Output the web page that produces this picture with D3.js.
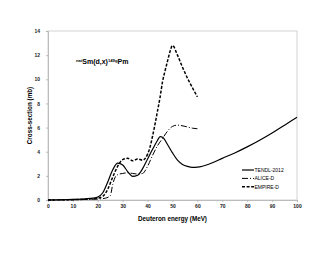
<!DOCTYPE html>
<html>
<head>
<meta charset="utf-8">
<script src="https://cdn.jsdelivr.net/npm/d3@7"></script>
<style>
  body { margin: 0; background: #fff; }
  svg { display: block; font-family: "Liberation Sans", Arial, sans-serif; }
</style>
</head>
<body>
<svg></svg>
<script>
// chart values
var tendlE = [0, 5, 10, 15, 18, 20, 22, 24, 26, 28, 30, 32, 34, 36, 38, 40, 42, 44, 45, 46, 48, 50, 52, 54, 56, 58, 60, 65, 70, 75, 80, 85, 90, 95, 100];
var tendlY = [0, 0.02, 0.05, 0.1, 0.15, 0.25, 0.6, 1.5, 2.5, 3.05, 2.9, 2.35, 1.95, 2.05, 2.6, 3.4, 4.2, 4.95, 5.25, 5.2, 4.6, 3.9, 3.3, 2.95, 2.78, 2.7, 2.72, 3.0, 3.45, 3.9, 4.4, 4.95, 5.55, 6.2, 6.85];

var aliceE = [0, 10, 15, 20, 23, 25, 26, 27, 28, 30, 32, 34, 36, 38, 40, 42, 44, 46, 48, 50, 52, 55, 58, 60];
var aliceY = [0, 0.02, 0.05, 0.08, 0.15, 0.35, 1.3, 1.9, 2.1, 2.2, 2.25, 2.2, 2.15, 2.2, 2.8, 3.7, 4.5, 5.1, 5.7, 6.1, 6.2, 6.1, 5.95, 5.9];

var empireE = [0, 10, 15, 18, 20, 22, 24, 26, 28, 30, 32, 34, 36, 38, 40, 41, 42, 43, 44, 45, 46, 47, 48, 49, 50, 52, 54, 56, 58, 60];
var empireY = [0, 0.03, 0.06, 0.1, 0.15, 0.3, 0.9, 1.9, 2.8, 3.35, 3.45, 3.25, 3.4, 3.3, 3.8, 4.4, 5.3, 6.3, 7.4, 8.5, 9.8, 10.7, 11.5, 12.3, 12.8, 12.0, 11.0, 10.1, 9.3, 8.55];

var seriesNames = ["TENDL-2012", "ALICE-D", "EMPIRE-D"];
var xTicks = [0, 10, 20, 30, 40, 50, 60, 70, 80, 90, 100];
var yTicks = [0, 2, 4, 6, 8, 10, 12, 14];

var width = 330, height = 255,
    plot = {left: 48, top: 31, right: 297, bottom: 200};

var svg = d3.select("svg")
            .attr("width", width)
            .attr("height", height);

var xScale = d3.scaleLinear().domain([0, 100]).range([plot.left, plot.right]),
    yScale = d3.scaleLinear().domain([0, 14]).range([plot.bottom, plot.top]);

// plot box
svg.append("rect")
   .attr("x", plot.left)
   .attr("y", plot.top)
   .attr("width", plot.right - plot.left)
   .attr("height", plot.bottom - plot.top)
   .attr("fill", "none")
   .attr("stroke", "#c8c8c8")
   .attr("stroke-width", 0.8);

var xAxis = svg.append("g")
   .attr("transform", "translate(0," + plot.bottom + ")")
   .call(d3.axisBottom(xScale).tickValues(xTicks).tickSize(2).tickPadding(2));

var yAxis = svg.append("g")
   .attr("transform", "translate(" + plot.left + ",0)")
   .call(d3.axisLeft(yScale).tickValues(yTicks).tickSize(2).tickPadding(6));

[xAxis, yAxis].forEach(function(ax) {
  ax.select(".domain").attr("stroke", "#b0b0b0").attr("stroke-width", 0.8);
  ax.selectAll(".tick line").attr("stroke", "#b0b0b0").attr("stroke-width", 0.8);
  ax.selectAll(".tick text")
    .attr("fill", "#222")
    .style("font-size", "5px")
    .style("font-weight", "bold")
    .style("font-family", "'Liberation Sans', Arial, sans-serif");
});

// axis titles
svg.append("text")
   .attr("x", (plot.left + plot.right) / 2)
   .attr("y", 221)
   .attr("text-anchor", "middle")
   .style("font-size", "6.3px")
   .style("font-weight", "bold")
   .text("Deuteron energy (MeV)");

svg.append("text")
   .attr("transform", "translate(32," + ((plot.top + plot.bottom) / 2) + ") rotate(-90)")
   .attr("text-anchor", "middle")
   .style("font-size", "6.3px")
   .style("font-weight", "bold")
   .text("Cross-section (mb)");

// reaction label
var title = svg.append("text")
   .attr("x", 76)
   .attr("y", 64)
   .style("font-size", "7px")
   .style("font-weight", "bold");
title.append("tspan").attr("dy", -2.4).style("font-size", "4.2px").text("nat");
title.append("tspan").attr("dy", 2.4).text("Sm(d,x)");
title.append("tspan").attr("dy", -2.4).style("font-size", "4.2px").text("149g");
title.append("tspan").attr("dy", 2.4).text("Pm");

var line = d3.line()
   .x(function(d) { return xScale(d[0]); })
   .y(function(d) { return yScale(d[1]); })
   .curve(d3.curveMonotoneX);

var styles = [
  {dash: null, w: 1.2},
  {dash: "6,2,1,2", w: 1},
  {dash: "3,1.6", w: 1.5}
];

var series = [
  d3.zip(tendlE, tendlY),
  d3.zip(aliceE, aliceY),
  d3.zip(empireE, empireY)
];

series.forEach(function(pts, i) {
  svg.append("path")
     .datum(pts)
     .attr("d", line)
     .attr("fill", "none")
     .attr("stroke", "#000")
     .attr("stroke-width", styles[i].w)
     .attr("stroke-dasharray", styles[i].dash);
});

// legend
var legend = svg.append("g").attr("transform", "translate(242,170)");
seriesNames.forEach(function(name, i) {
  var row = legend.append("g").attr("transform", "translate(0," + (i * 8.4) + ")");
  row.append("line")
     .attr("x1", 0).attr("x2", 12)
     .attr("y1", 0).attr("y2", 0)
     .attr("stroke", "#000")
     .attr("stroke-width", styles[i].w)
     .attr("stroke-dasharray", styles[i].dash);
  row.append("text")
     .attr("x", 12.5)
     .attr("y", 1.8)
     .style("font-size", "5px")
     .text(name);
});
</script>
</body>
</html>
